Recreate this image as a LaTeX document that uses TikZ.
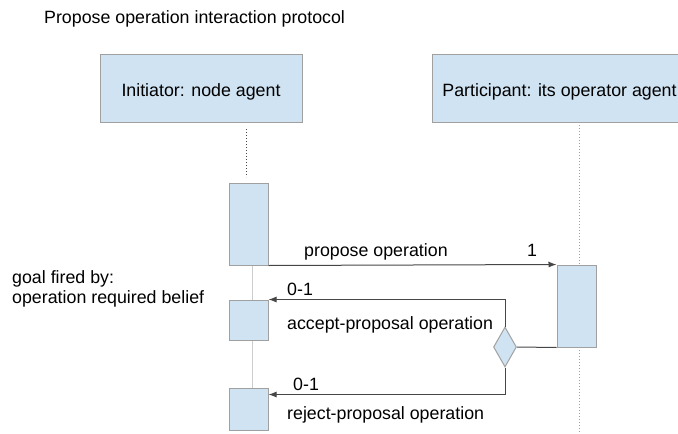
\documentclass[tikz,border=0pt]{standalone}
\usepackage{fontspec}
\setmainfont{Liberation Sans}
\usepackage{tikz}
\usetikzlibrary{arrows.meta,shapes.geometric}

\definecolor{boxfill}{RGB}{207,227,242}
\definecolor{boxline}{RGB}{160,160,160}
\definecolor{msgline}{RGB}{70,70,70}

\begin{document}
\begin{tikzpicture}[x=1pt,y=-1pt,
    every node/.style={font=\fontsize{17.8}{20}\selectfont},
    agentbox/.style={draw=boxline,fill=boxfill,line width=1pt,inner sep=0pt,
        text height=16pt,text depth=0pt},
    actbox/.style={draw=boxline,fill=boxfill,line width=1pt,inner sep=0pt,minimum width=39pt},
    msg/.style={draw=msgline,line width=1pt},
    lbl/.style={inner sep=0pt,anchor=base west}]
                \clip (0,0) rectangle (678,434);
                % Title
                \node[lbl] (title) at (44,23) {Propose operation interaction protocol};
                % The two agents
                \node[agentbox,minimum width=202pt,minimum height=68pt] (init) at (201,88) {Initiator: node agent};
                \node[agentbox,minimum width=255pt,minimum height=68pt] (part) at (559.5,88) {Participant: its operator agent};
                % Lifelines
                \coordinate (initlife) at (246,129);
                \coordinate (initlifeend) at (246,177);
                \coordinate (partlife) at (579,122);
                \coordinate (partlifeend) at (579,434);
                \draw[msgline,dotted,line width=1pt] (initlife) -- (initlifeend);
                \draw[boxline,dotted,line width=1pt] (partlife) -- (partlifeend);
                \draw[black!20,line width=1pt] (252,265) -- (252,388);
                % Activation boxes
                \node[actbox,minimum height=82pt] (act1) at (248.5,224) {};
                \node[actbox,minimum height=40pt] (act2) at (248.5,320) {};
                \node[actbox,minimum height=42pt] (act3) at (248.5,409) {};
                \node[actbox,minimum height=82pt] (pact) at (576.5,306) {};
                % Decision diamond
                \node[diamond,aspect=0.575,draw=boxline,fill=boxfill,line width=1pt,inner sep=0pt,
                    minimum width=23pt,minimum height=40pt] (dec) at (505,347) {};
                % Messages
                \draw[msg,-{Latex[length=8pt,width=6pt]}] (act1.south east) -- (pact.north west);
                \draw[msg] (pact.south west) -- (dec.east);
                \draw[msg,-{Latex[length=8pt,width=6pt]}] (dec.north) |- (act2.north east);
                \draw[msg,-{Latex[length=8pt,width=6pt]}] (dec.south) |- ([yshift=-7pt]act3.north east);
                % Message labels
                \node[lbl] (proplbl) at (304,256) {propose operation};
                \node[lbl,anchor=base] (propcard) at (532,256) {1};
                \node[lbl] (acccard) at (287,295) {0-1};
                \node[lbl] (acclbl) at (287,329) {accept-proposal operation};
                \node[lbl] (rejcard) at (293,390) {0-1};
                \node[lbl] (rejlbl) at (287,419) {reject-proposal operation};
                % Goal note
                \node[inner sep=0pt,anchor=north west,align=left] (goal) at (12,270)
                    {goal fired by:\\operation required belief};
            \end{tikzpicture}
\end{document}
